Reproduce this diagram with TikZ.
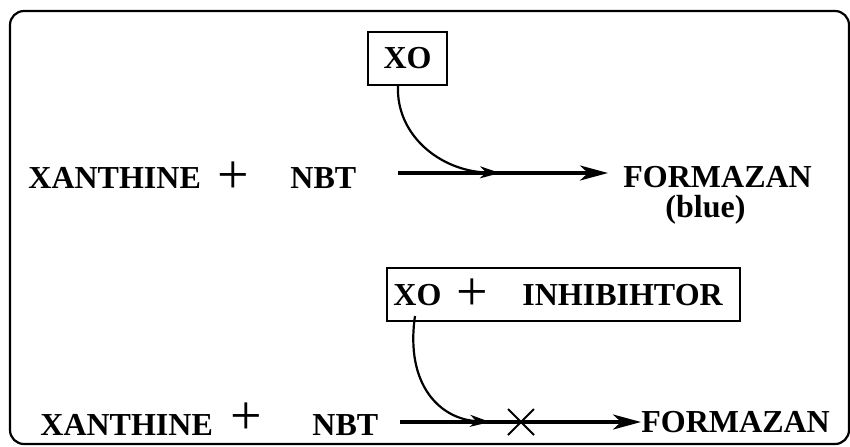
\documentclass[tikz,border=0pt]{standalone}
\usepackage{fontspec}
\setmainfont{Liberation Serif}
\usetikzlibrary{arrows.meta}
\begin{document}
\begin{tikzpicture}[x=0.5pt,y=-0.5pt,
  lbl/.style={font=\fontsize{16}{19}\selectfont\bfseries, inner sep=0pt, anchor=base west},
  plussign/.style={font=\fontsize{28}{30}\selectfont, inner sep=0pt},
  boxed/.style={draw, line width=1pt, inner sep=0pt},
  mainline/.style={line width=1.6pt},
  curveline/.style={line width=1.1pt},
  bigtip/.style={-{Stealth[length=14pt,width=7.5pt,inset=4pt]}},
  smalltip/.style={-{Stealth[length=10pt,width=6pt,inset=3pt]}},
  crossline/.style={line width=1pt}
]
\useasboundingbox (0,0) rectangle (850,446);
\draw[line width=1.1pt, rounded corners=7pt] (10,11) rectangle (849,444);

% ---- row 1 ----
\node[lbl] (x1) at (28,188) {XANTHINE};
\node[plussign] (p1) at (233,178) {+};
\node[lbl] (n1) at (290,188) {NBT};
\node[lbl] (f1) at (623,187) {FORMAZAN};
\node[lbl] (b1) at (665,217) {(blue)};
\node[boxed, minimum width=39.5pt, minimum height=26.5pt,
      font=\fontsize{16}{19}\selectfont\bfseries] (xo1) at (407.5,58) {XO};
\coordinate (a1) at (398,173);
\coordinate (t1) at (608,173);
\coordinate (c1s) at (398,86);
\coordinate (c1e) at (500,173);
\draw[mainline,bigtip] (a1) -- (t1);
\draw[curveline,smalltip] (c1s) .. controls (396,135) and (440,171) .. (c1e);

% ---- row 2 ----
\node[boxed, minimum width=176.5pt, minimum height=26.5pt] (box2) at (563.5,294.5) {};
\node[lbl] (xo2) at (393,305) {XO};
\node[plussign] (p3) at (472,295) {+};
\node[lbl] (inh) at (522,305) {INHIBIHTOR};
\node[lbl] (x2) at (40,435) {XANTHINE};
\node[plussign] (p2) at (246,419) {+};
\node[lbl] (n2) at (312,435) {NBT};
\node[lbl] (f2) at (641,432) {FORMAZAN};
\coordinate (a2) at (400,422);
\coordinate (t2) at (641,422);
\coordinate (c2s) at (415,316);
\coordinate (c2e) at (490,422);
\draw[mainline,bigtip] (a2) -- (t2);
\draw[curveline,smalltip] (c2s) .. controls (405,385) and (440,419) .. (c2e);
\coordinate (xc) at (521,422);
\draw[crossline] ([shift={(-13,-13)}]xc) -- ([shift={(13,13)}]xc);
\draw[crossline] ([shift={(-13,13)}]xc) -- ([shift={(13,-13)}]xc);
\end{tikzpicture}
\end{document}
